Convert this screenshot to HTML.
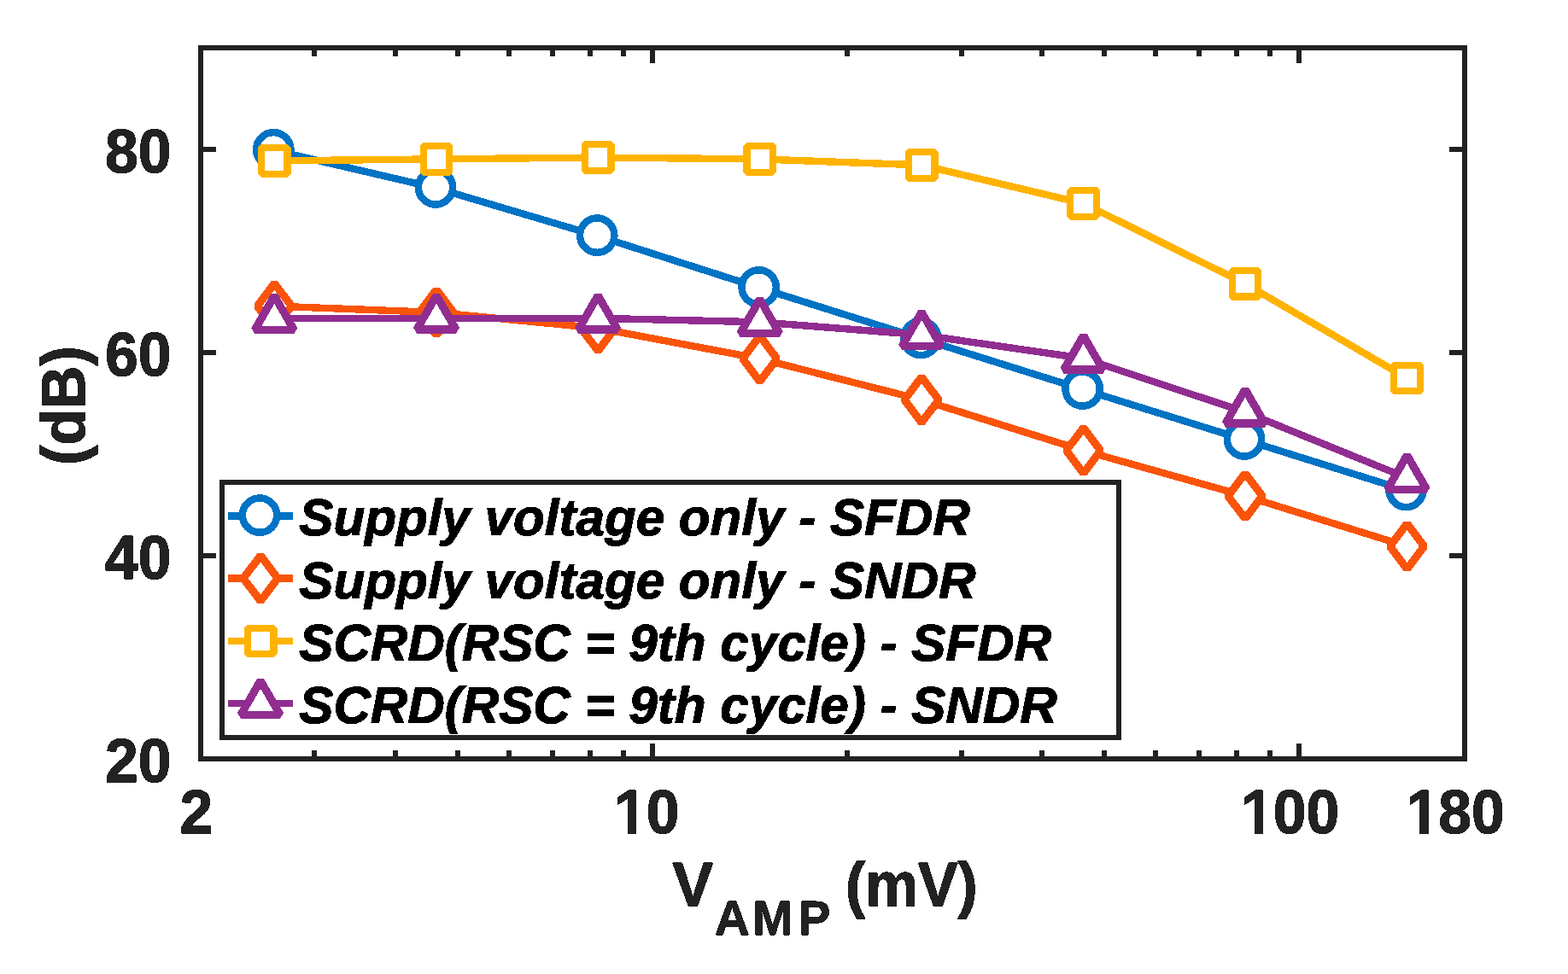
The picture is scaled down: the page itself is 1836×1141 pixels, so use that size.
<!DOCTYPE html>
<html lang="en">
<head>
<meta charset="utf-8">
<title>SFDR and SNDR versus V AMP</title>
<style>
html,body{margin:0;padding:0;background:#fff;}
body{width:1836px;height:1141px;overflow:hidden;}
svg{display:block;}
text{font-family:"Liberation Sans",sans-serif;font-weight:bold;text-rendering:geometricPrecision;filter:url(#hard);}
.tk{font-size:71px;fill:#222222;stroke:#222222;stroke-width:1.3px;stroke-linejoin:round;}
.sb{font-size:56.8px;fill:#222222;stroke:#222222;stroke-width:0.9px;stroke-linejoin:round;}
.lg{font-size:60px;font-style:italic;fill:#000;stroke:#000;stroke-width:1.2px;stroke-linejoin:round;}
</style>
</head>
<body>
<svg width="1836" height="1141" viewBox="0 0 1836 1141" shape-rendering="crispEdges">
<defs><filter id="hard" x="-5%" y="-20%" width="110%" height="140%" color-interpolation-filters="sRGB"><feComponentTransfer><feFuncA type="discrete" tableValues="0 1"/></feComponentTransfer></filter></defs>
<rect x="0" y="0" width="1836" height="1141" fill="#fff"/>
<path d="M365 56h6v10h-6zM365 879h6v10h-6zM460 56h6v10h-6zM460 879h6v10h-6zM533 56h6v10h-6zM533 879h6v10h-6zM593 56h6v10h-6zM593 879h6v10h-6zM644 56h6v10h-6zM644 879h6v10h-6zM688 56h6v10h-6zM688 879h6v10h-6zM727 56h6v10h-6zM727 879h6v10h-6zM989 56h6v10h-6zM989 879h6v10h-6zM1123 56h6v10h-6zM1123 879h6v10h-6zM1217 56h6v10h-6zM1217 879h6v10h-6zM1290 56h6v10h-6zM1290 879h6v10h-6zM1350 56h6v10h-6zM1350 879h6v10h-6zM1401 56h6v10h-6zM1401 879h6v10h-6zM1445 56h6v10h-6zM1445 879h6v10h-6zM1484 56h6v10h-6zM1484 879h6v10h-6zM761 56h6v18h-6zM761 871h6v18h-6zM1518 56h6v18h-6zM1518 871h6v18h-6zM235 648h18v6h-18zM1697 648h18v6h-18zM235 410h18v6h-18zM1697 410h18v6h-18zM235 172h18v6h-18zM1697 172h18v6h-18z" fill="#222222" stroke="none"/>
<rect x="235" y="56" width="1480" height="833" fill="none" stroke="#222222" stroke-width="6.0"/>
<g>
<polyline points="321.3,176.2 511,220.4 700.2,276.55 889.7,337.3 1079.1,396.9 1268.6,456.4 1458,515.4 1647.5,574.8" fill="none" stroke="#0073C4" stroke-width="8.4" stroke-linejoin="round"/>
<circle cx="320.3" cy="175.3" r="20.15" fill="#fff" stroke="#0073C4" stroke-width="8.5"/>
<circle cx="510" cy="219.5" r="20.15" fill="#fff" stroke="#0073C4" stroke-width="8.5"/>
<circle cx="699.2" cy="275.65" r="20.15" fill="#fff" stroke="#0073C4" stroke-width="8.5"/>
<circle cx="888.7" cy="336.4" r="20.15" fill="#fff" stroke="#0073C4" stroke-width="8.5"/>
<circle cx="1078.1" cy="396" r="20.15" fill="#fff" stroke="#0073C4" stroke-width="8.5"/>
<circle cx="1267.6" cy="455.5" r="20.15" fill="#fff" stroke="#0073C4" stroke-width="8.5"/>
<circle cx="1457" cy="514.5" r="20.15" fill="#fff" stroke="#0073C4" stroke-width="8.5"/>
<circle cx="1646.5" cy="573.9" r="20.15" fill="#fff" stroke="#0073C4" stroke-width="8.5"/>
</g>
<g>
<polyline points="321.3,358.6 511,366 700.2,384.4 889.7,420.2 1079.1,468.35 1268.6,527.8 1458,581.1 1647.5,640" fill="none" stroke="#FA540A" stroke-width="8.4" stroke-linejoin="round"/>
<path d="M321.3 332L341.4 358.6L321.3 385.2L301.2 358.6Z" fill="#fff" stroke="#FA540A" stroke-width="9.2" stroke-linejoin="bevel"/>
<path d="M511 339.4L531.1 366L511 392.6L490.9 366Z" fill="#fff" stroke="#FA540A" stroke-width="9.2" stroke-linejoin="bevel"/>
<path d="M700.2 357.8L720.3 384.4L700.2 411L680.1 384.4Z" fill="#fff" stroke="#FA540A" stroke-width="9.2" stroke-linejoin="bevel"/>
<path d="M889.7 393.6L909.8 420.2L889.7 446.8L869.6 420.2Z" fill="#fff" stroke="#FA540A" stroke-width="9.2" stroke-linejoin="bevel"/>
<path d="M1079.1 441.75L1099.2 468.35L1079.1 494.95L1059 468.35Z" fill="#fff" stroke="#FA540A" stroke-width="9.2" stroke-linejoin="bevel"/>
<path d="M1268.6 501.2L1288.7 527.8L1268.6 554.4L1248.5 527.8Z" fill="#fff" stroke="#FA540A" stroke-width="9.2" stroke-linejoin="bevel"/>
<path d="M1458 554.5L1478.1 581.1L1458 607.7L1437.9 581.1Z" fill="#fff" stroke="#FA540A" stroke-width="9.2" stroke-linejoin="bevel"/>
<path d="M1647.5 613.4L1667.6 640L1647.5 666.6L1627.4 640Z" fill="#fff" stroke="#FA540A" stroke-width="9.2" stroke-linejoin="bevel"/>
</g>
<g>
<polyline points="321.3,188.4 511,186.4 700.2,184.5 889.7,186.4 1079.1,193.4 1268.6,238.4 1458,332.3 1647.5,443" fill="none" stroke="#FFB300" stroke-width="8.4" stroke-linejoin="round"/>
<rect x="305.97" y="173.07" width="30.66" height="30.66" fill="#fff" stroke="#FFB300" stroke-width="8.33" stroke-linejoin="bevel"/>
<rect x="495.67" y="171.07" width="30.66" height="30.66" fill="#fff" stroke="#FFB300" stroke-width="8.33" stroke-linejoin="bevel"/>
<rect x="684.87" y="169.17" width="30.66" height="30.66" fill="#fff" stroke="#FFB300" stroke-width="8.33" stroke-linejoin="bevel"/>
<rect x="874.37" y="171.07" width="30.66" height="30.66" fill="#fff" stroke="#FFB300" stroke-width="8.33" stroke-linejoin="bevel"/>
<rect x="1063.77" y="178.07" width="30.66" height="30.66" fill="#fff" stroke="#FFB300" stroke-width="8.33" stroke-linejoin="bevel"/>
<rect x="1253.27" y="223.07" width="30.66" height="30.66" fill="#fff" stroke="#FFB300" stroke-width="8.33" stroke-linejoin="bevel"/>
<rect x="1442.67" y="316.97" width="30.66" height="30.66" fill="#fff" stroke="#FFB300" stroke-width="8.33" stroke-linejoin="bevel"/>
<rect x="1632.17" y="427.67" width="30.66" height="30.66" fill="#fff" stroke="#FFB300" stroke-width="8.33" stroke-linejoin="bevel"/>
</g>
<g>
<polyline points="321.3,373.2 511,372.8 700.2,372.8 889.7,377.3 1079.1,392.3 1268.6,419.8 1458,482.7 1647.5,559.9" fill="none" stroke="#912D91" stroke-width="8.4" stroke-linejoin="round"/>
<path d="M321.3 346.65L344.29 386.47L298.31 386.47Z" fill="#fff" stroke="#912D91" stroke-width="9.3" stroke-linejoin="bevel"/>
<path d="M511 346.25L533.99 386.07L488.01 386.07Z" fill="#fff" stroke="#912D91" stroke-width="9.3" stroke-linejoin="bevel"/>
<path d="M700.2 346.25L723.19 386.07L677.21 386.07Z" fill="#fff" stroke="#912D91" stroke-width="9.3" stroke-linejoin="bevel"/>
<path d="M889.7 350.75L912.69 390.57L866.71 390.57Z" fill="#fff" stroke="#912D91" stroke-width="9.3" stroke-linejoin="bevel"/>
<path d="M1079.1 365.75L1102.09 405.57L1056.11 405.57Z" fill="#fff" stroke="#912D91" stroke-width="9.3" stroke-linejoin="bevel"/>
<path d="M1268.6 393.25L1291.59 433.07L1245.61 433.07Z" fill="#fff" stroke="#912D91" stroke-width="9.3" stroke-linejoin="bevel"/>
<path d="M1458 456.15L1480.99 495.97L1435.01 495.97Z" fill="#fff" stroke="#912D91" stroke-width="9.3" stroke-linejoin="bevel"/>
<path d="M1647.5 533.35L1670.49 573.17L1624.51 573.17Z" fill="#fff" stroke="#912D91" stroke-width="9.3" stroke-linejoin="bevel"/>
</g>
<rect x="260" y="565" width="1050" height="299" fill="#fff" stroke="#222222" stroke-width="6"/>
<rect x="267" y="600" width="76" height="9" fill="#0073C4"/><circle cx="304.05" cy="603.6" r="20.15" fill="#fff" stroke="#0073C4" stroke-width="8.5"/>
<text class="lg" transform="translate(350.3 627.4) scale(1.0025 1.01)">Supply voltage only - SFDR</text>
<rect x="267" y="673" width="76" height="9" fill="#FA540A"/><path d="M305.05 650.9L325.15 677.5L305.05 704.1L284.95 677.5Z" fill="#fff" stroke="#FA540A" stroke-width="9.2" stroke-linejoin="bevel"/>
<text class="lg" transform="translate(350.3 700.5) scale(1.0025 1.01)">Supply voltage only - SNDR</text>
<rect x="267" y="747" width="76" height="8" fill="#FFB300"/><rect x="289.72" y="735.67" width="30.66" height="30.66" fill="#fff" stroke="#FFB300" stroke-width="8.33" stroke-linejoin="bevel"/>
<text class="lg" transform="translate(350.3 773.9) scale(1.0025 1.01)">SCRD(RSC = 9th cycle) - SFDR</text>
<rect x="267" y="820" width="76" height="8" fill="#912D91"/><path d="M305.05 797.45L328.04 837.27L282.06 837.27Z" fill="#fff" stroke="#912D91" stroke-width="9.3" stroke-linejoin="bevel"/>
<text class="lg" transform="translate(350.3 847.1) scale(1.0025 1.01)">SCRD(RSC = 9th cycle) - SNDR</text>
<text class="tk" text-anchor="end" transform="translate(200.5 916) scale(0.98 1.02)">20</text>
<text class="tk" text-anchor="end" transform="translate(200.5 678) scale(0.98 1.02)">40</text>
<text class="tk" text-anchor="end" transform="translate(200.5 440) scale(0.98 1.02)">60</text>
<text class="tk" text-anchor="end" transform="translate(200.5 202) scale(0.98 1.02)">80</text>
<defs><clipPath id="nofoot"><path clip-rule="evenodd" d="M0 900H1836V1000H0Z M719 966H735V985H719Z M745 966H757V985H745Z M1453 966H1469V985H1453Z M1479 966H1491V985H1479Z M1646 966H1662V985H1646Z M1673 966H1685V985H1673Z "/></clipPath></defs>
<g clip-path="url(#nofoot)">
<text class="tk" transform="translate(210.45 976.2) scale(0.98 1.02)">2</text>
<text class="tk" transform="translate(719.1 976.2) scale(0.98 1.02)" dx="0 -1">10</text>
<text class="tk" transform="translate(1452.95 976.2) scale(0.98 1.02)" dx="0 -1 0">100</text>
<text class="tk" transform="translate(1646.55 976.2) scale(0.98 1.02)" dx="0 -1 0">180</text>
</g>
<text class="tk" transform="translate(787.4 1061.2) scale(1.005 1.02)">V</text>
<text class="sb" transform="translate(836.8 1095.3) scale(1.0 1.0)" x="0 44.2 97.6">AMP</text>
<text class="tk" transform="translate(990 1061.2) scale(0.98 1.02)">(mV)</text>
<text class="tk" transform="translate(99.2 475) rotate(-90) scale(0.985 1.02)" text-anchor="middle">(dB)</text>
</svg>
</body>
</html>
